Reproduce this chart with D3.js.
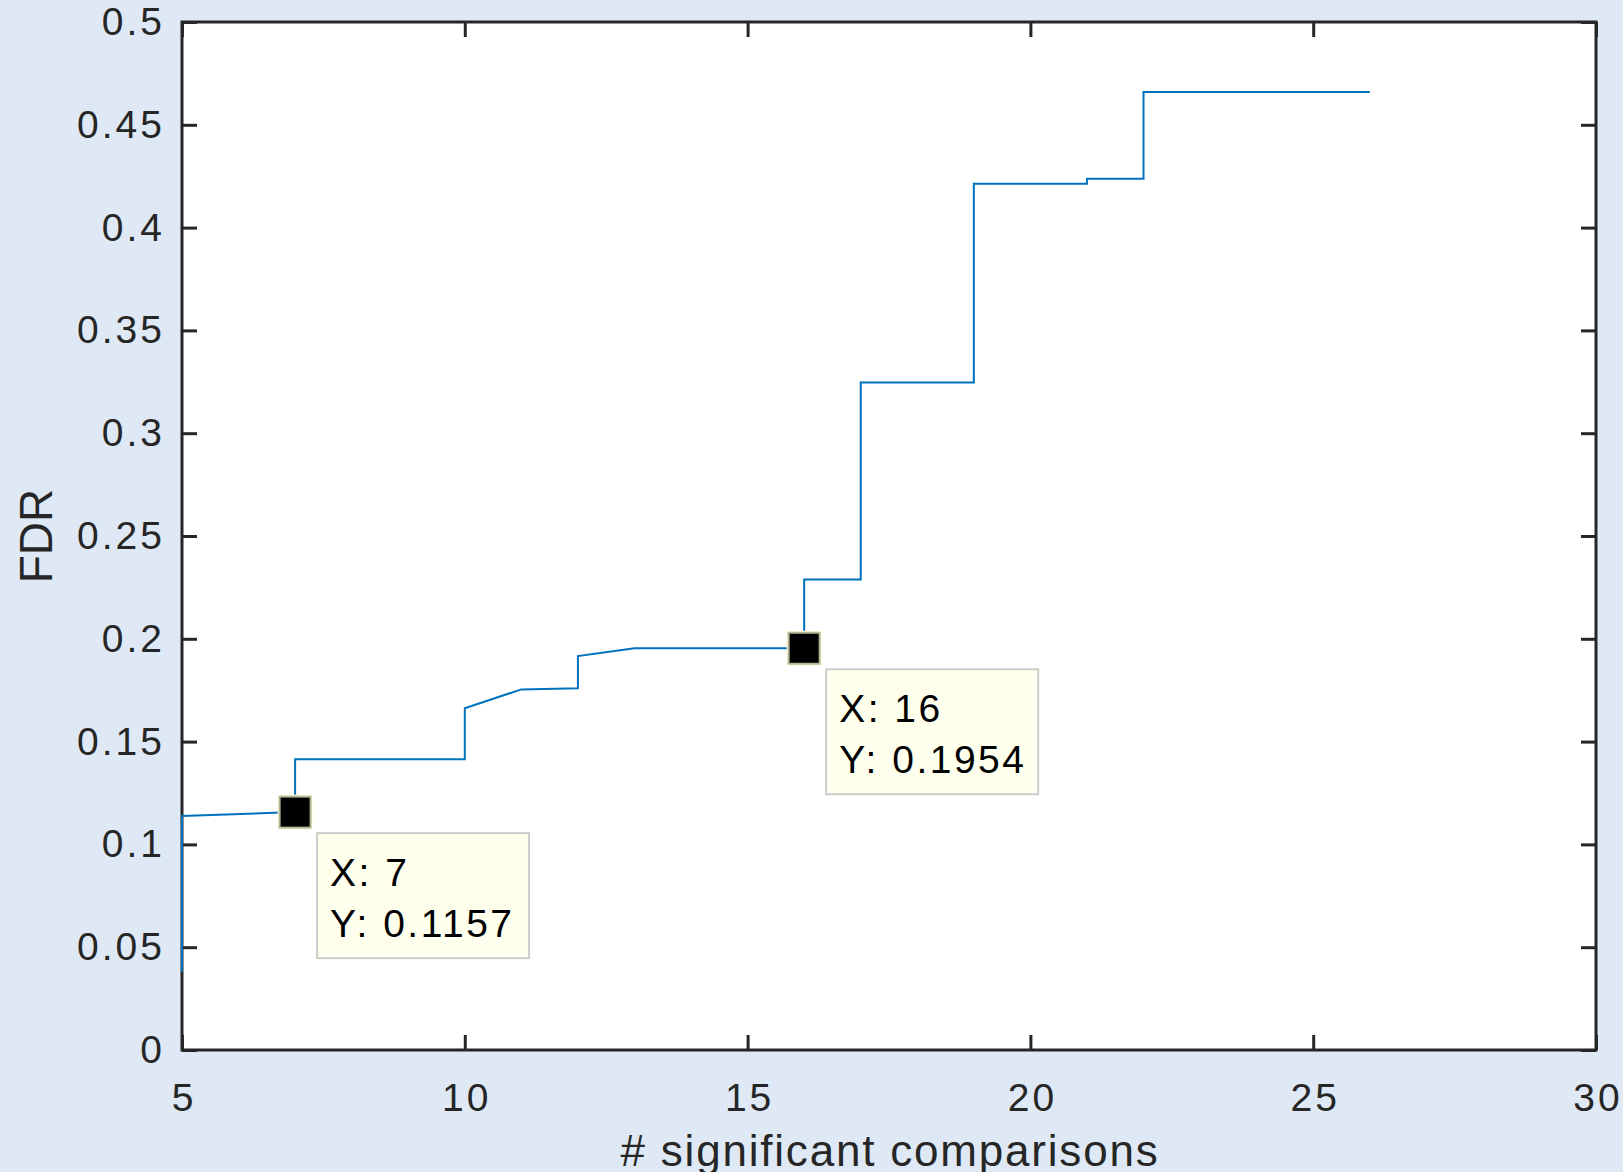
<!DOCTYPE html>
<html>
<head>
<meta charset="utf-8">
<script src="https://cdn.jsdelivr.net/npm/d3@7"></script>
<style>
  html, body { margin: 0; padding: 0; background: #dee9f5; }
  svg { display: block; }
  text { font-family: "Liberation Sans", Arial, Helvetica, sans-serif; }
</style>
</head>
<body>
<script>
// step curve of FDR vs number of significant comparisons
var xVals = [5, 5, 7, 7, 10, 10, 11, 12, 12, 13, 16, 16, 17, 17, 19, 19, 21, 21, 22, 22, 26]
var yVals = [0.0381, 0.1138, 0.1157, 0.1414, 0.1414, 0.1662, 0.1754, 0.1759, 0.1916, 0.1954, 0.1954,
             0.2289, 0.2289, 0.3246, 0.3246, 0.4213, 0.4213, 0.4238, 0.4238, 0.4660, 0.4660]
var xTicks = [5, 10, 15, 20, 25, 30]
var yTicks = [0, 0.05, 0.1, 0.15, 0.2, 0.25, 0.3, 0.35, 0.4, 0.45, 0.5]
var yTickLabels = ["0", "0.05", "0.1", "0.15", "0.2", "0.25", "0.3", "0.35", "0.4", "0.45", "0.5"]
var tipX = [7, 16]
var tipY = [0.1157, 0.1954]

var W = 1623, H = 1172
var margin = {top: 22, right: 27, bottom: 122, left: 182}
var width = W - margin.left - margin.right,
    height = H - margin.top - margin.bottom

var svg = d3.select("body").append("svg")
    .attr("width", W).attr("height", H)

svg.append("rect").attr("width", W).attr("height", H).attr("fill", "#dee9f5")

var g = svg.append("g")
    .attr("transform", "translate(" + margin.left + "," + margin.top + ")")

var x_scale = d3.scaleLinear().domain([5, 30]).range([0, width])
var y_scale = d3.scaleLinear().domain([0, 0.5]).range([height, 0])

g.append("rect").attr("width", width).attr("height", height).attr("fill", "white")

var axisColor = "#262626"

function styleAxis(sel, showText) {
    sel.select(".domain").remove()
    sel.selectAll(".tick line").attr("stroke", axisColor).attr("stroke-width", 3)
    sel.selectAll(".tick text")
        .attr("fill", axisColor)
        .style("font-size", "39px")
        .style("letter-spacing", "3px")
        .style("font-family", "'Liberation Sans', Arial, sans-serif")
    if (!showText) sel.selectAll(".tick text").remove()
}

// bottom / top
g.append("g").attr("transform", "translate(0," + height + ")")
    .call(d3.axisBottom(x_scale).tickValues(xTicks).tickSize(-15).tickPadding(33).tickFormat(d3.format("d")))
    .call(styleAxis, true)
    .selectAll(".tick text").attr("dx", 1.5)
g.append("g")
    .call(d3.axisTop(x_scale).tickValues(xTicks).tickSize(-15).tickFormat(""))
    .call(styleAxis, false)

// left / right
g.append("g")
    .call(d3.axisLeft(y_scale).tickValues(yTicks).tickSize(-15).tickPadding(17)
        .tickFormat(function(d, i) { return yTickLabels[i] }))
    .call(styleAxis, true)
g.append("g").attr("transform", "translate(" + width + ",0)")
    .call(d3.axisRight(y_scale).tickValues(yTicks).tickSize(-15).tickFormat(""))
    .call(styleAxis, false)

g.append("rect").attr("width", width).attr("height", height)
    .attr("fill", "none").attr("stroke", axisColor).attr("stroke-width", 3)

// the curve
var pts = xVals.map(function(v, i) { return [v, yVals[i]] })
g.append("path")
    .datum(pts)
    .attr("fill", "none")
    .attr("stroke", "#0072bd")
    .attr("stroke-width", 2)
    .attr("d", d3.line()
        .x(function(d) { return x_scale(d[0]) })
        .y(function(d) { return y_scale(d[1]) }))

// data tips
tipX.forEach(function(tx, i) {
    var cx = x_scale(tx), cy = y_scale(tipY[i])
    g.append("rect")
        .attr("x", cx - 17.5).attr("y", cy - 17.5).attr("width", 35).attr("height", 35)
        .attr("fill", "#ffffe0")
    g.append("rect")
        .attr("x", cx - 15.5).attr("y", cy - 15.5).attr("width", 31).attr("height", 31)
        .attr("fill", "black").attr("stroke", "#b4b496").attr("stroke-width", 2)

    var bx = cx + 22, by = cy + 21
    g.append("rect")
        .attr("x", bx).attr("y", by).attr("width", 212).attr("height", 125)
        .attr("fill", "#ffffee").attr("stroke", "#cccccc").attr("stroke-width", 2)
    g.append("text").attr("x", bx + 13).attr("y", by + 53)
        .style("font-size", "39px").style("letter-spacing", "2.5px").attr("fill", "black")
        .text("X: " + tx)
    g.append("text").attr("x", bx + 13).attr("y", by + 104)
        .style("font-size", "39px").style("letter-spacing", "2.5px").attr("fill", "black")
        .text("Y: " + d3.format(".4f")(tipY[i]))
})

// axis labels
svg.append("text")
    .attr("x", margin.left + width / 2 + 1).attr("y", 1166)
    .attr("text-anchor", "middle")
    .attr("fill", axisColor)
    .style("font-size", "44px")
    .style("letter-spacing", "1.8px")
    .text("# significant comparisons")

svg.append("text")
    .attr("transform", "translate(52," + (margin.top + height / 2) + ") rotate(-90)")
    .attr("text-anchor", "middle")
    .attr("fill", axisColor)
    .style("font-size", "46px")
    .text("FDR")
</script>
</body>
</html>
